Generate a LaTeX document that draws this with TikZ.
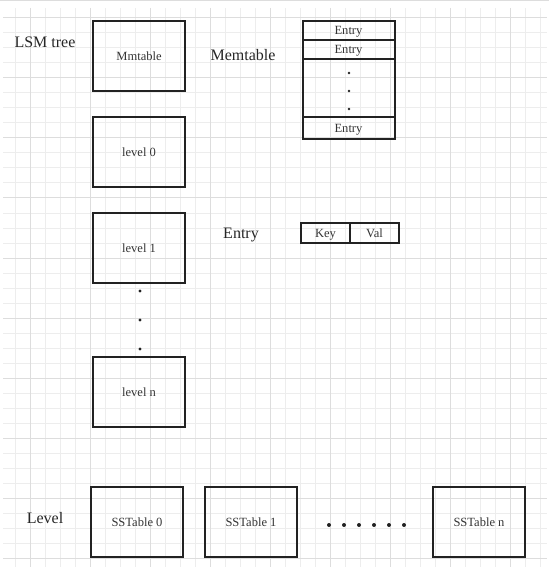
\documentclass[tikz,border=0pt]{standalone}
\usepackage{fontspec}
\setmainfont{Liberation Serif}
\usepackage{xcolor}
\usetikzlibrary{positioning}

\definecolor{gridminor}{HTML}{EDEDED}
\definecolor{gridmajor}{HTML}{DDDDDD}
\definecolor{edge}{HTML}{222222}
\definecolor{ink}{HTML}{333333}

\begin{document}
\begin{tikzpicture}[x=0.75pt,y=-0.75pt,
    box/.style={draw=edge,line width=1.5pt,minimum width=69pt,minimum height=52.5pt,
      inner sep=0pt,outer sep=0pt,text=ink,font=\fontsize{9.4}{11}\selectfont},
    cell/.style={draw=edge,line width=1.5pt,minimum width=69pt,text depth=0pt,
      inner sep=0pt,outer sep=0pt,text=ink,font=\fontsize{9.4}{11}\selectfont},
    title/.style={text=black!85,text depth=0pt,font=\fontsize{12}{14}\selectfont},
    dot/.style={circle,fill=edge,inner sep=0pt,minimum size=2.4pt}]
  \useasboundingbox (0,0) rectangle (549,570);
  % grid
  \draw[gridmajor,line width=0.75pt] (0,1) -- (549,1);
  \foreach \x in {15,30,...,540}
    \draw[gridminor,line width=0.75pt] (\x,8) -- (\x,567);
  \foreach \y in {18,33,...,558}
    \draw[gridminor,line width=0.75pt] (3,\y) -- (547,\y);
  \foreach \x in {30,90,...,510}
    \draw[gridmajor,line width=0.75pt] (\x,8) -- (\x,567);
  \foreach \y in {18,78,...,558}
    \draw[gridmajor,line width=0.75pt] (3,\y) -- (547,\y);

  % LSM tree
  \node[title] (lsm) at (45,42) {LSM tree};
  \node[box] (mmt) at (139,56) {Mmtable};
  \node[box] (lvl0) at (139,152) {level 0};
  \node[box] (lvl1) at (139,248) {level 1};
  \node[box] (lvln) at (139,392) {level n};
  \foreach \y/\n in {291/1,320/2,349/3}
    \node[dot] (vdot\n) at (140,\y) {};

  % Memtable
  \node[title] (memt) at (243,55) {Memtable};
  \node[cell,minimum height=14.25pt] (ent1) at (348.5,30.5) {Entry};
  \node[cell,minimum height=14.25pt,below=0pt of ent1] (ent2) {Entry};
  \node[cell,minimum height=43.5pt,below=0pt of ent2] (entdots) {};
  \node[cell,minimum height=16.5pt,below=0pt of entdots] (entn) {Entry};
  \foreach \y/\n in {73/1,91/2,109/3}
    \node[dot,minimum size=2pt] (mdot\n) at (349,\y) {};

  % Entry
  \node[title] (entry) at (241,233) {Entry};
  \node[cell,minimum width=36.75pt,minimum height=15pt] (key) at (325.5,233) {Key};
  \node[cell,minimum width=36.75pt,minimum height=15pt,right=0pt of key] (val) {Val};

  % Level
  \node[title] (level) at (45,518) {Level};
  \node[box] (sst0) at (137,522) {SSTable 0};
  \node[box] (sst1) at (251,522) {SSTable 1};
  \node[box] (sstn) at (479,522) {SSTable n};
  \foreach \n in {0,...,5}
    \node[dot,minimum size=3pt] (hdot\n) at (329+15*\n,525) {};
\end{tikzpicture}
\end{document}
